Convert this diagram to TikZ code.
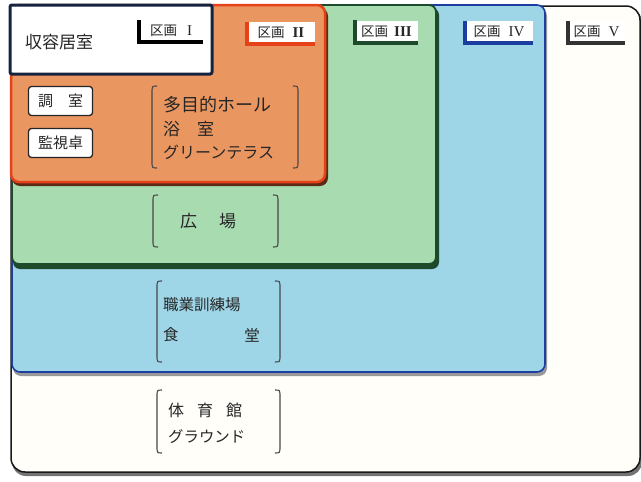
\documentclass[tikz,border=0pt]{standalone}
\usepackage{fontspec}
\newfontfamily\jp{Noto Sans CJK JP}
\newfontfamily\rom{Liberation Serif}
\definecolor{ink}{HTML}{262626}
\definecolor{orfill}{HTML}{EA9660}
\definecolor{orline}{HTML}{E5421A}
\definecolor{orshadow}{HTML}{5C2A14}
\definecolor{grfill}{HTML}{A9DBB0}
\definecolor{grline}{HTML}{1D4A2A}
\definecolor{blfill}{HTML}{9ED6E8}
\definecolor{blline}{HTML}{1A3FA0}
\definecolor{cream}{HTML}{FFFEF9}
\definecolor{navy}{HTML}{15233F}
\newcommand\lbrk[3]{\draw[brk] (#1+5,#2) .. controls (#1,#2) .. (#1,#2+7) -- (#1,#3-7) .. controls (#1,#3) .. (#1+5,#3);}
\newcommand\rbrk[3]{\draw[brk] (#1-5,#2) .. controls (#1,#2) .. (#1,#2+7) -- (#1,#3-7) .. controls (#1,#3) .. (#1-5,#3);}
\newcommand\romnum[1]{{\rom\fontsize{15}{15}\selectfont #1}}
\begin{document}
\begin{tikzpicture}[x=1pt,y=-1pt,
  txt/.style={font=\jp\fontsize{#1}{#1}\selectfont, text=ink, inner sep=0pt, anchor=west},
  lab/.style={fill=white, inner sep=0pt, minimum height=22pt, font=\jp\fontsize{13.5}{13.5}\selectfont, text=ink},
  lmark/.style={draw=#1, line width=4pt},
  brk/.style={draw=ink!85, line width=1.1pt},
  smallbox/.style={draw=ink, line width=1.3pt, fill=white, rounded corners=3pt, minimum width=64pt, minimum height=29pt, inner sep=0pt, font=\jp\fontsize{15}{15}\selectfont, text=ink}]
\useasboundingbox (0,0) rectangle (641,482);
% zone V (outer)
\fill[black!55, rounded corners=14pt] (12,8) rectangle (642,476);
\draw[fill=cream, draw=black!90, line width=1.5pt, rounded corners=14pt] (11,6) rectangle (640,472);
% zone IV (blue)
\fill[black!40, rounded corners=8pt] (13,8) rectangle (547,376);
\draw[fill=blfill, draw=blline, line width=1.6pt, rounded corners=8pt] (12,5) rectangle (545,372);
% zone III (green)
\fill[grline, rounded corners=7pt] (13,8) rectangle (439,269);
\draw[fill=grfill, draw=grline, line width=1.8pt, rounded corners=7pt] (12,5) rectangle (436,264);
% zone II (orange)
\fill[orshadow, rounded corners=8pt] (12,8) rectangle (328,186);
\draw[fill=orfill, draw=orline, line width=2.5pt, rounded corners=8pt] (11,5) rectangle (325,182);
% zone I (white)
\draw[fill=white, draw=navy, line width=3pt, rounded corners=2pt] (10,5) rectangle (212,74);
\node[txt=17] (kyoshitsu) at (25,42) {収容居室};
% zone labels
\node[lab, minimum width=64pt] (l1) at (171,31) {区画\hspace{10pt}\romnum{I}};
\draw[lmark=black] (l1.north west) |- (l1.south east);
\node[lab, minimum width=68pt] (l2) at (281,33) {区画\hspace{8pt}\romnum{\textbf{II}}};
\draw[lmark=orline] (l2.north west) |- (l2.south east);
\node[lab, minimum width=63pt] (l3) at (386.5,31.5) {区画\hspace{6pt}\romnum{\textbf{III}}};
\draw[lmark=grline] (l3.north west) |- (l3.south east);
\node[lab, minimum width=68pt] (l4) at (499,32) {区画\hspace{8pt}\romnum{IV}};
\draw[lmark=blline] (l4.north west) |- (l4.south east);
\node[lab, minimum width=57pt] (l5) at (596.5,32) {区画\hspace{8pt}\romnum{V}};
\draw[lmark=black!80] (l5.north west) |- (l5.south east);
% small boxes in zone II
\node[smallbox] (chou) at (60.5,101) {調\hspace{15pt}室};
\node[smallbox] (kanshi) at (60.5,143) {監視卓};
% zone II bracket
\lbrk{152}{86}{168}
\rbrk{298}{86}{168}
\node[txt=18] (hall) at (163,105) {多目的ホール};
\node[txt=17] (yoku) at (163,129) {浴\hspace{17pt}室};
\node[txt=16] (green) at (163,152) {グリーンテラス};
% zone III bracket
\lbrk{153}{195}{247}
\rbrk{278}{195}{247}
\node[txt=17] (hiroba) at (180,221) {広\hspace{22pt}場};
% zone IV bracket
\lbrk{157}{281}{362}
\rbrk{280}{281}{362}
\node[txt=15.5] (shoku) at (163,305) {職業訓練場};
\node[txt=15.5] (jiki) at (163,335) {食};
\node[txt=15.5, anchor=east] (dou) at (260,335) {堂};
% zone V bracket
\lbrk{157}{390}{453}
\rbrk{280}{390}{453}
\node[txt=16] (tai) at (168,410) {体\hspace{13pt}育\hspace{13pt}館};
\node[txt=15.4] (ground) at (168,437) {グラウンド};
\end{tikzpicture}
\end{document}
